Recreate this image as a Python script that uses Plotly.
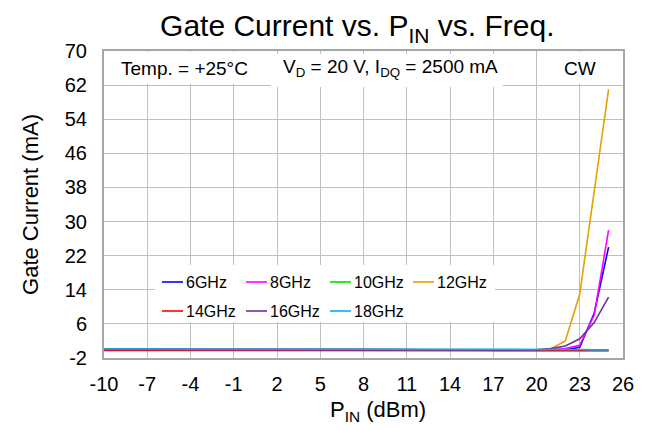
import plotly.graph_objects as go

# ---- data ----
pin_dbm = [-10, -9, -8, -7, -6, -5, -4, -3, -2, -1, 0, 1, 2, 3, 4, 5, 6, 7, 8, 9,
           10, 11, 12, 13, 14, 15, 16, 17, 18, 19, 20, 21, 22, 23, 24, 25]

ig_6ghz = [0.1, 0.1, 0.1, 0.1, 0.1, 0.1, 0.1, 0.1, 0.1, 0.1, 0.1, 0.1, 0.1, 0.1, 0.1, 0.1, 0.1, 0.1, 0.0, 0.0,
           0.0, 0.0, -0.1, -0.1, -0.1, -0.1, -0.1, -0.1, -0.2, -0.2, -0.2, -0.2, -0.1, 0.5, 8.5, 24.0]
ig_8ghz = [0.1, 0.1, 0.1, 0.1, 0.1, 0.1, 0.1, 0.1, 0.1, 0.1, 0.1, 0.1, 0.1, 0.1, 0.1, 0.1, 0.1, 0.0, 0.0, -0.1,
           -0.1, -0.1, -0.1, -0.1, -0.2, -0.2, -0.2, -0.2, -0.2, -0.2, -0.2, -0.1, 0.2, 1.0, 8.0, 28.0]
ig_10ghz = [0.0, 0.0, 0.0, 0.0, 0.0, 0.0, 0.0, 0.0, 0.0, 0.0, 0.0, 0.0, 0.0, 0.0, 0.0, 0.0, 0.0, 0.0, 0.0, 0.0,
            -0.1, -0.1, -0.1, -0.1, -0.1, -0.1, -0.1, -0.2, -0.2, -0.2, -0.2, -0.2, -0.2, -0.2, -0.2, -0.2]
ig_12ghz = [0.0, 0.0, 0.0, 0.0, 0.0, 0.0, 0.0, 0.0, 0.0, 0.0, 0.0, 0.0, 0.0, 0.0, 0.0, 0.0, 0.0, 0.0, 0.0, 0.0,
            0.0, 0.0, -0.1, -0.1, -0.1, -0.1, -0.1, -0.1, -0.1, -0.1, -0.1, 0.2, 2.0, 13.0, 37.0, 61.0]
ig_14ghz = [-0.2, -0.2, -0.2, -0.2, -0.2, -0.2, -0.2, -0.2, -0.2, -0.2, -0.2, -0.2, -0.2, -0.2, -0.2, -0.2, -0.2, -0.2, -0.2, -0.2,
            -0.3, -0.3, -0.3, -0.3, -0.3, -0.3, -0.3, -0.3, -0.3, -0.3, -0.3, -0.3, -0.3, -0.3, -0.3, -0.3]
ig_16ghz = [0.0, 0.0, 0.0, 0.0, 0.0, 0.0, 0.0, 0.0, 0.0, 0.0, 0.0, 0.0, 0.0, 0.0, 0.0, 0.0, 0.0, 0.0, 0.0, 0.0,
            0.0, -0.1, -0.1, -0.1, -0.1, -0.1, -0.1, -0.1, -0.1, -0.1, -0.1, 0.2, 0.8, 2.5, 6.3, 12.3]
ig_18ghz = [0.1, 0.1, 0.1, 0.1, 0.1, 0.1, 0.1, 0.1, 0.1, 0.1, 0.1, 0.1, 0.1, 0.1, 0.1, 0.1, 0.1, 0.1, 0.1, 0.1,
            0.1, 0.0, 0.0, 0.0, 0.0, 0.0, 0.0, 0.0, 0.0, 0.0, 0.0, 0.0, 0.0, 0.0, -0.1, -0.1]

series_names = ["6GHz", "8GHz", "10GHz", "12GHz", "14GHz", "16GHz", "18GHz"]
series_values = [ig_6ghz, ig_8ghz, ig_10ghz, ig_12ghz, ig_14ghz, ig_16ghz, ig_18ghz]
series_colors = ["#0000FF", "#FF00FF", "#00DD00", "#E6A000", "#FF0000", "#7030A0", "#00B0F0"]

x_ticks = [-10, -7, -4, -1, 2, 5, 8, 11, 14, 17, 20, 23, 26]
y_ticks = [-2, 6, 14, 22, 30, 38, 46, 54, 62, 70]

FONT = "Liberation Sans, Arial, sans-serif"

# plot geometry (px): x 104.3..622.7, y 51..358.3
W, H = 652, 430
L, R, T, B = 104, 29, 51, 72
PW, PH = W - L - R, H - T - B


def px(xp):
    return (xp - L) / PW


def py(yp):
    return (H - B - yp) / PH


fig = go.Figure()
for name, vals, col in zip(series_names, series_values, series_colors):
    fig.add_trace(go.Scatter(x=pin_dbm, y=vals, mode="lines", name=name,
                             line=dict(color=col, width=1.6), showlegend=False))

# white boxes behind the header texts and the legend (pixel rectangles)
box_px = [
    (105, 271, 52, 83.5),    # Temp box
    (271, 503, 54, 87),      # VD box
    (537, 621, 52, 83.5),    # CW box
    (155, 495, 265, 322),    # legend background
]
shapes = [dict(type="rect", xref="paper", yref="paper",
               x0=px(a), x1=px(b), y0=py(d), y1=py(c),
               fillcolor="white", line=dict(width=0), layer="above")
          for a, b, c, d in box_px]

annotations = [
    dict(text="Temp. = +25°C", x=px(184), y=py(68)),
    dict(text="V<sub>D</sub> = 20 V, I<sub>DQ</sub> = 2500 mA", x=px(390), y=py(68)),
    dict(text="CW", x=px(580), y=py(68)),
]
for a in annotations:
    a.update(xref="paper", yref="paper", showarrow=False, xanchor="center", yanchor="middle",
             font=dict(family=FONT, size=19, color="black"))

# legend: 4 columns, 2 rows
col_x = [162, 246, 330, 413]
row_y = [282, 311]
for i, (name, col) in enumerate(zip(series_names, series_colors)):
    cx = col_x[i % 4]
    ry = row_y[i // 4]
    shapes.append(dict(type="line", xref="paper", yref="paper",
                       x0=px(cx), x1=px(cx + 21), y0=py(ry), y1=py(ry),
                       line=dict(color=col, width=1.6), layer="above"))
    annotations.append(dict(text=name, x=px(cx + 22), y=py(ry), xref="paper", yref="paper",
                            showarrow=False, xanchor="left", yanchor="middle",
                            font=dict(family=FONT, size=16, color="black")))

# x axis title
annotations.append(dict(text="P<sub>IN</sub> (dBm)", x=px(378), y=py(411),
                        xref="paper", yref="paper", showarrow=False,
                        xanchor="center", yanchor="middle",
                        font=dict(family=FONT, size=22, color="black")))

fig.update_layout(
    width=W, height=H,
    margin=dict(l=L, r=R, t=T, b=B, autoexpand=False),
    paper_bgcolor="white", plot_bgcolor="white",
    font=dict(family=FONT, color="black"),
    showlegend=False,
    title=dict(text="Gate Current vs. P<sub>IN</sub> vs. Freq.",
               x=0.548, xanchor="center", y=0.94, yanchor="middle",
               font=dict(family=FONT, size=30, color="black")),
    xaxis=dict(range=[-10, 26], tickmode="array", tickvals=x_ticks,
               ticktext=[str(v) for v in x_ticks],
               showgrid=True, gridcolor="#BFBFBF", gridwidth=1,
               showline=True, linecolor="#A6A6A6", linewidth=2, mirror=True,
               zeroline=False, ticks="", ticklabelstandoff=7,
               tickfont=dict(family=FONT, size=20, color="black")),
    yaxis=dict(range=[-2, 70], tickmode="array", tickvals=y_ticks,
               ticktext=[str(v) for v in y_ticks],
               showgrid=True, gridcolor="#BFBFBF", gridwidth=1,
               showline=True, linecolor="#A6A6A6", linewidth=2, mirror=True,
               zeroline=False, ticks="", ticklabelstandoff=11,
               tickfont=dict(family=FONT, size=20, color="black"),
               title=dict(text="Gate Current (mA)", standoff=20,
                          font=dict(family=FONT, size=22, color="black"))),
    shapes=shapes,
    annotations=annotations,
)

fig.write_html("out.html")
